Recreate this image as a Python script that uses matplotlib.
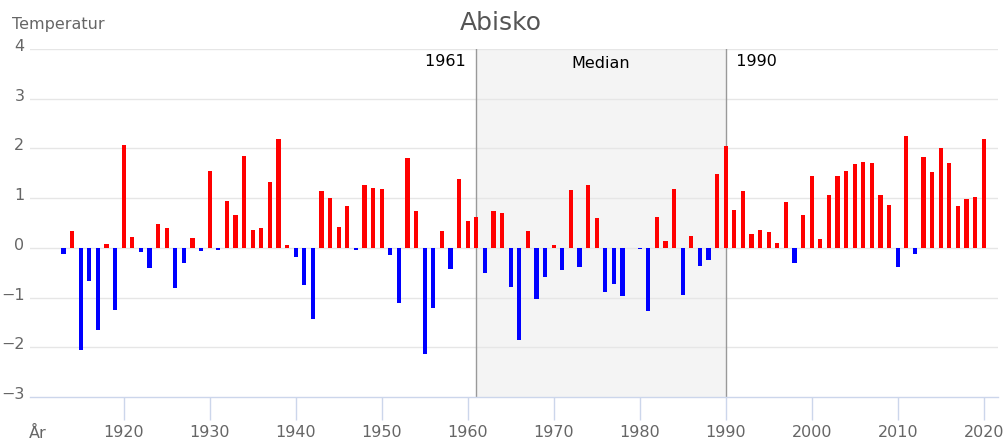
#!/usr/bin/env python3
"""
Abisko annual temperature anomaly bars, 1961-1990 reference period shaded
"""

import numpy as np
import matplotlib
matplotlib.use('Agg')
import matplotlib.pyplot as plt
from matplotlib.transforms import ScaledTranslation, blended_transform_factory

# Years on the x axis (one bar per year)
first_year = 1913
last_year = 2020
years = list(range(first_year, last_year + 1))

# Anomaly per year [deg C], one row per decade
anomalies = [
    -0.12, 0.33, -2.06, -0.67, -1.66, 0.08, -1.26,                 # 1913-1919
    2.07, 0.21, -0.09, -0.40, 0.48, 0.39, -0.80, -0.30, 0.19, -0.07,  # 1920s
    1.55, -0.05, 0.95, 0.66, 1.85, 0.36, 0.39, 1.32, 2.18, 0.05,   # 1930s
    -0.19, -0.75, -1.44, 1.14, 1.01, 0.41, 0.84, -0.04, 1.27, 1.21,  # 1940s
    1.19, -0.15, -1.10, 1.80, 0.74, -2.13, -1.20, 0.33, -0.42, 1.39,  # 1950s
    0.54, 0.63, -0.50, 0.74, 0.71, -0.79, -1.86, 0.33, -1.02, -0.58,  # 1960s
    0.05, -0.44, 1.17, -0.39, 1.27, 0.61, -0.89, -0.72, -0.97, 0.00,  # 1970s
    -0.03, -1.28, 0.62, 0.13, 1.19, -0.95, 0.23, -0.37, -0.24, 1.49,  # 1980s
    2.05, 0.76, 1.14, 0.28, 0.36, 0.31, 0.10, 0.92, -0.30, 0.66,   # 1990s
    1.45, 0.18, 1.07, 1.45, 1.55, 1.68, 1.72, 1.70, 1.07, 0.87,    # 2000s
    -0.39, 2.25, -0.12, 1.83, 1.52, 2.00, 1.70, 0.84, 0.99, 1.02,  # 2010s
    2.18,                                                          # 2020
]

# Reference period
band_start = 1961
band_end = 1990
band_label = 'Median'

y_ticks = [-3, -2, -1, 0, 1, 2, 3, 4]
x_ticks = [1920, 1930, 1940, 1950, 1960, 1970, 1980, 1990, 2000, 2010, 2020]

TITLE = 'Abisko'
Y_TITLE = 'Temperatur'
X_TITLE = 'År'

# Colours
WARM = '#ff0000'
COLD = '#0000ff'
GRID = '#e6e6e6'
AXIS = '#ccd6eb'
LABEL = '#666666'
BAND = '#f4f4f4'
BAND_LINE = '#999999'


def main():
    vals = np.array(anomalies)
    yrs = np.array(years)
    bar_colors = [WARM if v >= 0 else COLD for v in vals]

    fig = plt.figure(figsize=(10.05, 4.41), dpi=100)
    ax = fig.add_axes([30 / 1005, 44 / 441, 968 / 1005, 348 / 441])

    # Reference period band and its edges
    ax.axvspan(band_start, band_end, color=BAND, zorder=0, lw=0)
    ax.axvline(band_start, color=BAND_LINE, lw=1, zorder=1)
    ax.axvline(band_end, color=BAND_LINE, lw=1, zorder=1)

    # Horizontal grid lines
    for yv in y_ticks[1:]:
        ax.axhline(yv, color=GRID, lw=1, zorder=0.5)

    ax.bar(yrs, vals, width=0.5, color=bar_colors, edgecolor='none', lw=0, zorder=2)

    ax.set_xlim(1909.1, 2021.66)
    ax.set_ylim(-3, 4)

    for side in ['top', 'right', 'left']:
        ax.spines[side].set_visible(False)
    ax.spines['bottom'].set_color(AXIS)
    ax.spines['bottom'].set_linewidth(1)

    ax.set_xticks(x_ticks)
    ax.set_xticklabels([str(x) for x in x_ticks])
    ax.tick_params(axis='x', length=16.5, width=1, color=AXIS, pad=4,
                   labelsize=11.5, labelcolor=LABEL)
    ax.set_yticks(y_ticks)
    ax.set_yticklabels(['\u2212' + str(-t) if t < 0 else str(t) for t in y_ticks])
    ax.tick_params(axis='y', length=0, pad=4, labelsize=11.5, labelcolor=LABEL)
    # lift y labels a little above their grid line
    for lab in ax.get_yticklabels():
        lab.set_transform(lab.get_transform() + ScaledTranslation(0, 4 / 100, fig.dpi_scale_trans))

    # Band labels: x in data units, y in figure units
    trans = blended_transform_factory(ax.transData, fig.transFigure)
    ax.text(band_start, 1 - 62 / 441, f'{band_start}  ', transform=trans,
            ha='right', va='center', fontsize=11.5, color='black')
    ax.text((band_start + band_end) / 2, 1 - 64 / 441, band_label, transform=trans,
            ha='center', va='center', fontsize=11.5, color='black')
    ax.text(band_end, 1 - 62 / 441, f'  {band_end}', transform=trans,
            ha='left', va='center', fontsize=11.5, color='black')

    # Titles
    fig.text(501 / 1005, 1 - 22.5 / 441, TITLE, ha='center', va='center',
             fontsize=18, color='#555555')
    fig.text(12 / 1005, 1 - 24 / 441, Y_TITLE, ha='left', va='center',
             fontsize=11.5, color=LABEL)
    fig.text(29 / 1005, 1 - 433 / 441, X_TITLE, ha='left', va='center',
             fontsize=11.5, color=LABEL)

    fig.savefig('out.png', dpi=100)
    plt.close(fig)


if __name__ == '__main__':
    main()
